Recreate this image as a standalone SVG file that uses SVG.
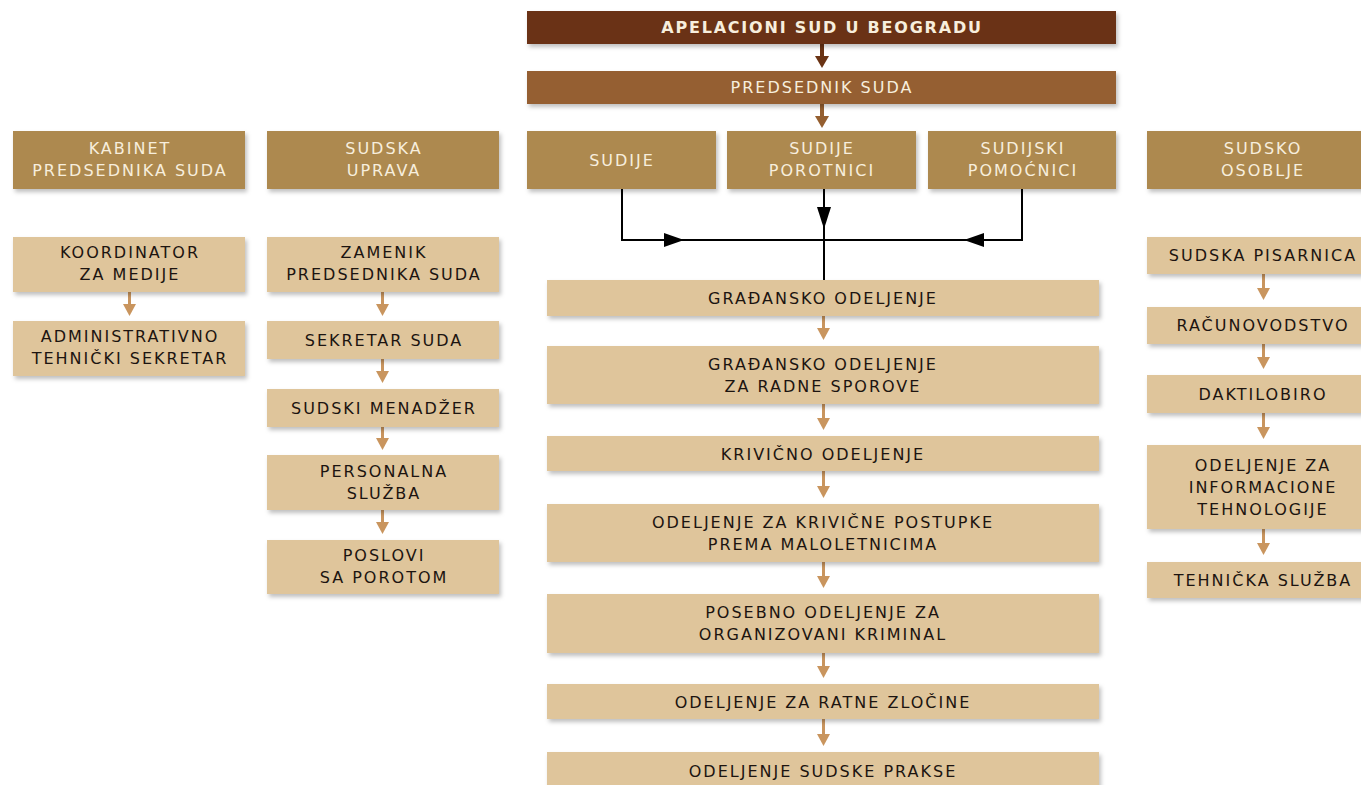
<svg xmlns="http://www.w3.org/2000/svg" width="1361" height="785" viewBox="0 0 1361 785">
<defs>
<filter id="sh" x="-5%" y="-20%" width="115%" height="160%">
<feDropShadow dx="2" dy="3" stdDeviation="2" flood-color="#000" flood-opacity="0.25"/>
</filter>
<style>
.t{font-family:"DejaVu Sans","Liberation Sans",sans-serif;font-size:16px;letter-spacing:2px;text-anchor:middle}
.dk{fill:#1c1410}
.lt{fill:#f7eedd}
.b0{fill:#6a3314;filter:url(#sh)}
.b1{fill:#955f30;filter:url(#sh)}
.b2{fill:#ad894f;filter:url(#sh)}
.b3{fill:#dfc59b;filter:url(#sh)}
.hd{font-weight:bold;font-size:16px;letter-spacing:1.8px}
.ln{stroke:#000;stroke-width:2;fill:none}
.ah{fill:#000}
.ca{fill:#c9955e}
</style>
</defs>
<rect width="1361" height="785" fill="#fff"/>

<g id="connectors">
<!-- top arrows -->
<rect x="820" y="44" width="4" height="14" fill="#6a3314"/>
<polygon points="815,56 829,56 822,68" fill="#6a3314"/>
<rect x="820" y="104" width="4" height="14" fill="#955f30"/>
<polygon points="815,116 829,116 822,128" fill="#955f30"/>
<!-- black connectors -->
<path class="ln" d="M622,189 V240 H1022 V189"/>
<path class="ln" d="M824,189 V280"/>
<polygon class="ah" points="664,233 664,247 684,240"/>
<polygon class="ah" points="984,233 984,247 964,240"/>
<polygon class="ah" points="817,207 831,207 824,229"/>
<!-- column 1 -->
<rect class="ca" x="128" y="292" width="3" height="14"/><polygon class="ca" points="123,304 136,304 129.5,316"/>
<!-- column 2 -->
<rect class="ca" x="381" y="292" width="3" height="14"/><polygon class="ca" points="376,304 389,304 382.5,316"/>
<rect class="ca" x="381" y="359" width="3" height="14"/><polygon class="ca" points="376,371 389,371 382.5,383"/>
<rect class="ca" x="381" y="427" width="3" height="12"/><polygon class="ca" points="376,438 389,438 382.5,450"/>
<rect class="ca" x="381" y="510" width="3" height="14"/><polygon class="ca" points="376,522 389,522 382.5,534"/>
<!-- middle column -->
<rect class="ca" x="822" y="316" width="3" height="13"/><polygon class="ca" points="817,328 830,328 823.5,340"/>
<rect class="ca" x="822" y="404" width="3" height="14"/><polygon class="ca" points="817,418 830,418 823.5,430"/>
<rect class="ca" x="822" y="471" width="3" height="15"/><polygon class="ca" points="817,486 830,486 823.5,498"/>
<rect class="ca" x="822" y="562" width="3" height="14"/><polygon class="ca" points="817,576 830,576 823.5,588"/>
<rect class="ca" x="822" y="653" width="3" height="13"/><polygon class="ca" points="817,666 830,666 823.5,678"/>
<rect class="ca" x="822" y="719" width="3" height="15"/><polygon class="ca" points="817,734 830,734 823.5,746"/>
<!-- right column -->
<rect class="ca" x="1262" y="274" width="3" height="15"/><polygon class="ca" points="1257,288 1270,288 1263.5,300"/>
<rect class="ca" x="1262" y="344" width="3" height="13"/><polygon class="ca" points="1257,357 1270,357 1263.5,369"/>
<rect class="ca" x="1262" y="413" width="3" height="14"/><polygon class="ca" points="1257,427 1270,427 1263.5,439"/>
<rect class="ca" x="1262" y="529" width="3" height="14"/><polygon class="ca" points="1257,543 1270,543 1263.5,555"/>
</g>

<g id="apelacioni"><rect class="b0" x="527" y="11" width="589" height="33"/><text class="t lt hd" x="822" y="33">APELACIONI SUD U BEOGRADU</text></g>
<g id="predsednik"><rect class="b1" x="527" y="71" width="589" height="33"/><text class="t lt" x="822" y="93">PREDSEDNIK SUDA</text></g>

<g id="kabinet"><rect class="b2" x="13" y="131" width="232" height="58"/><text class="t lt" x="130" y="154">KABINET</text><text class="t lt" x="130" y="176">PREDSEDNIKA SUDA</text></g>
<g id="sudska-uprava"><rect class="b2" x="267" y="131" width="232" height="58"/><text class="t lt" x="384" y="154">SUDSKA</text><text class="t lt" x="384" y="176">UPRAVA</text></g>
<g id="sudije"><rect class="b2" x="527" y="131" width="189" height="58"/><text class="t lt" x="622" y="166">SUDIJE</text></g>
<g id="sudije-porotnici"><rect class="b2" x="727" y="131" width="189" height="58"/><text class="t lt" x="822" y="154">SUDIJE</text><text class="t lt" x="822" y="176">POROTNICI</text></g>
<g id="sudijski-pomocnici"><rect class="b2" x="928" y="131" width="188" height="58"/><text class="t lt" x="1023" y="154">SUDIJSKI</text><text class="t lt" x="1023" y="176">POMOĆNICI</text></g>
<g id="sudsko-osoblje"><rect class="b2" x="1147" y="131" width="232" height="58"/><text class="t lt" x="1263" y="154">SUDSKO</text><text class="t lt" x="1263" y="176">OSOBLJE</text></g>

<g id="koordinator"><rect class="b3" x="13" y="237" width="232" height="55"/><text class="t dk" x="130" y="258">KOORDINATOR</text><text class="t dk" x="130" y="280">ZA MEDIJE</text></g>
<g id="administrativno"><rect class="b3" x="13" y="321" width="232" height="55"/><text class="t dk" x="130" y="342">ADMINISTRATIVNO</text><text class="t dk" x="130" y="364">TEHNIČKI SEKRETAR</text></g>

<g id="zamenik"><rect class="b3" x="267" y="237" width="232" height="55"/><text class="t dk" x="384" y="258">ZAMENIK</text><text class="t dk" x="384" y="280">PREDSEDNIKA SUDA</text></g>
<g id="sekretar"><rect class="b3" x="267" y="321" width="232" height="38"/><text class="t dk" x="384" y="346">SEKRETAR SUDA</text></g>
<g id="menadzer"><rect class="b3" x="267" y="389" width="232" height="38"/><text class="t dk" x="384" y="414">SUDSKI MENADŽER</text></g>
<g id="personalna"><rect class="b3" x="267" y="455" width="232" height="55"/><text class="t dk" x="384" y="477">PERSONALNA</text><text class="t dk" x="384" y="499">SLUŽBA</text></g>
<g id="poslovi"><rect class="b3" x="267" y="540" width="232" height="54"/><text class="t dk" x="384" y="561">POSLOVI</text><text class="t dk" x="384" y="583">SA POROTOM</text></g>

<g id="gradjansko"><rect class="b3" x="547" y="280" width="552" height="36"/><text class="t dk" x="823" y="304">GRAĐANSKO ODELJENJE</text></g>
<g id="gradjansko-radne"><rect class="b3" x="547" y="346" width="552" height="58"/><text class="t dk" x="823" y="370">GRAĐANSKO ODELJENJE</text><text class="t dk" x="823" y="392">ZA RADNE SPOROVE</text></g>
<g id="krivicno"><rect class="b3" x="547" y="436" width="552" height="35"/><text class="t dk" x="823" y="460">KRIVIČNO ODELJENJE</text></g>
<g id="maloletnici"><rect class="b3" x="547" y="504" width="552" height="58"/><text class="t dk" x="823" y="528">ODELJENJE ZA KRIVIČNE POSTUPKE</text><text class="t dk" x="823" y="550">PREMA MALOLETNICIMA</text></g>
<g id="posebno"><rect class="b3" x="547" y="594" width="552" height="59"/><text class="t dk" x="823" y="618">POSEBNO ODELJENJE ZA</text><text class="t dk" x="823" y="640">ORGANIZOVANI KRIMINAL</text></g>
<g id="ratni"><rect class="b3" x="547" y="684" width="552" height="35"/><text class="t dk" x="823" y="708">ODELJENJE ZA RATNE ZLOČINE</text></g>
<g id="praksa"><rect class="b3" x="547" y="752" width="552" height="40"/><text class="t dk" x="823" y="777">ODELJENJE SUDSKE PRAKSE</text></g>

<g id="pisarnica"><rect class="b3" x="1147" y="237" width="232" height="37"/><text class="t dk" x="1263" y="261">SUDSKA PISARNICA</text></g>
<g id="racunovodstvo"><rect class="b3" x="1147" y="307" width="232" height="37"/><text class="t dk" x="1263" y="331">RAČUNOVODSTVO</text></g>
<g id="daktilobiro"><rect class="b3" x="1147" y="375" width="232" height="38"/><text class="t dk" x="1263" y="400">DAKTILOBIRO</text></g>
<g id="it"><rect class="b3" x="1147" y="445" width="232" height="84"/><text class="t dk" x="1263" y="471">ODELJENJE ZA</text><text class="t dk" x="1263" y="493">INFORMACIONE</text><text class="t dk" x="1263" y="515">TEHNOLOGIJE</text></g>
<g id="tehnicka"><rect class="b3" x="1147" y="562" width="232" height="36"/><text class="t dk" x="1263" y="586">TEHNIČKA SLUŽBA</text></g>
</svg>
